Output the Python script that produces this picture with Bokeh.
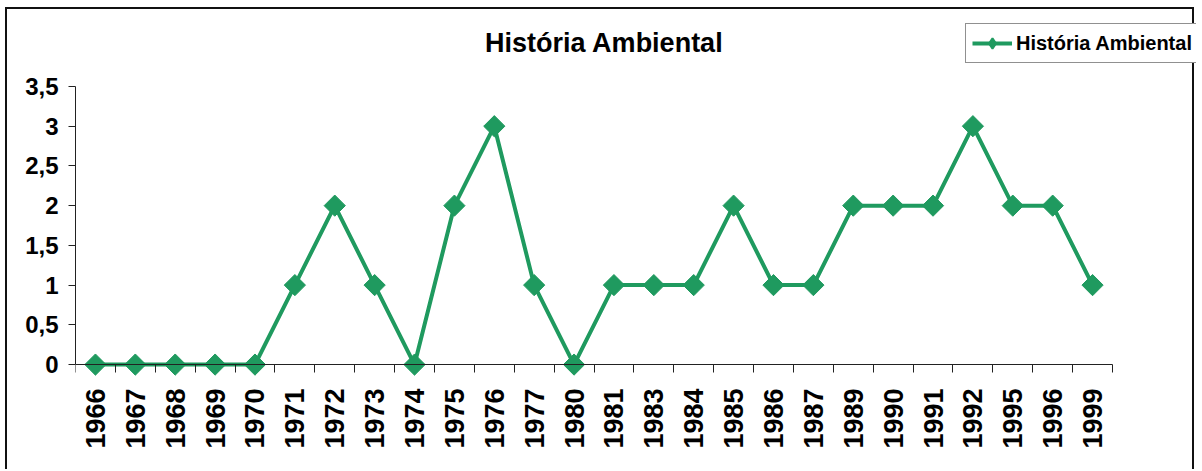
from bokeh.plotting import figure
from bokeh.models import (Range1d, LinearAxis, FixedTicker, CustomJSTickFormatter,
                          Legend, LegendItem, ColumnDataSource, Label, CDSView, IndexFilter)
from bokeh.embed import file_html
from bokeh.resources import INLINE
import numpy as np

# ---- data ----
years = ["1966", "1967", "1968", "1969", "1970", "1971", "1972", "1973", "1974", "1975",
         "1976", "1977", "1980", "1981", "1983", "1984", "1985", "1986", "1987", "1989",
         "1990", "1991", "1992", "1995", "1996", "1999"]
values = [0, 0, 0, 0, 0, 1, 2, 1, 0, 2,
          3, 1, 0, 1, 1, 1, 2, 1, 1, 2,
          2, 2, 3, 2, 2, 1]
y_ticks = [0, 0.5, 1, 1.5, 2, 2.5, 3, 3.5]
series_name = "História Ambiental"
title_text = "História Ambiental"

GREEN = "#1F9A5F"
FONT = "Liberation Sans"
AXIS = "#222222"

n = len(years)
pos = [i + 0.5 for i in range(n)]          # category centres
bounds_ticks = list(range(n + 1))           # category boundaries
src = ColumnDataSource(dict(x=pos, value=values, year=years))

# frame extends to the right / top so the legend box (outside the axes) is not clipped
p = figure(x_range=Range1d(0, n + 2.106), y_range=Range1d(-0.15, 4.33),
           width=1189, height=462, output_backend="svg", toolbar_location=None,
           x_axis_location=None, y_axis_location="left", title_location=None,
           min_border_left=68, min_border_right=0, min_border_top=11, min_border_bottom=95)
p.styles = {"margin-left": "5px", "margin-top": "7px",
            "border-top": "2px solid #111", "border-left": "2px solid #111",
            "border-right": "2px solid #111"}
p.outline_line_color = None
p.xgrid.visible = False
p.ygrid.visible = False
p.background_fill_color = "white"
p.border_fill_color = "white"

# y axis
ya = p.yaxis[0]
ya.ticker = FixedTicker(ticks=y_ticks)
ya.bounds = (min(y_ticks), max(y_ticks))
ya.formatter = CustomJSTickFormatter(code="return tick.toString().replace('.', ',');")
ya.major_label_text_font = FONT
ya.major_label_text_font_size = "24px"
ya.major_label_text_font_style = "bold"
ya.major_label_text_color = "black"
ya.major_tick_out = 7
ya.major_tick_in = 0
ya.minor_tick_line_color = None
ya.axis_line_color = AXIS
ya.major_tick_line_color = AXIS
ya.major_label_standoff = 10

# x labels (at category centres), reading bottom-to-top
xl = LinearAxis(ticker=FixedTicker(ticks=pos),
                major_label_overrides={c: y for c, y in zip(pos, years)},
                axis_line_color=None, major_tick_line_color=None, minor_tick_line_color=None,
                major_tick_out=0, major_tick_in=0, major_label_orientation=np.pi / 2,
                major_label_standoff=12, major_label_text_font=FONT,
                major_label_text_font_size="27px", major_label_text_font_style="bold",
                major_label_text_color="black")
p.add_layout(xl, "below")

# x axis line and boundary ticks at y = 0
xt = LinearAxis(ticker=FixedTicker(ticks=bounds_ticks), bounds=(0, n), fixed_location=0,
                axis_line_color=AXIS, major_tick_line_color=AXIS, minor_tick_line_color=None,
                major_tick_out=8, major_tick_in=0,
                major_label_overrides={b: "" for b in bounds_ticks},
                major_label_text_font_size="1px", major_label_standoff=0)
p.add_layout(xt, "below")

ln = p.line("x", "value", source=src, line_color=GREEN, line_width=4)
# diamond glyph used for the legend (its single point lies under the plotted marker)
leg_marker = p.scatter("x", "value", source=src, view=CDSView(filter=IndexFilter(indices=[0])),
                       marker="diamond", size=15, line_width=2,
                       fill_color=GREEN, line_color=GREEN)
sc = p.scatter("x", "value", source=src, marker="square", angle=np.pi / 4, size=15,
               fill_color=GREEN, line_color=GREEN)

# chart title (inside the enlarged frame)
p.add_layout(Label(x=13.26, y=4.05, text=title_text, text_align="center",
                   text_baseline="alphabetic", text_font=FONT, text_font_size="27px",
                   text_font_style="bold", text_color="black"))

leg = Legend(items=[LegendItem(label=series_name, renderers=[ln, leg_marker])],
             location=(890, 313), label_text_font=FONT, label_text_font_size="20px",
             label_text_font_style="bold", label_text_color="black",
             glyph_width=40, glyph_height=26, label_standoff=4, padding=6, margin=0,
             border_line_color="#222222", border_line_width=1,
             background_fill_alpha=1.0, background_fill_color="white")
p.add_layout(leg, "center")

open("out.html", "w").write(file_html(p, INLINE))
